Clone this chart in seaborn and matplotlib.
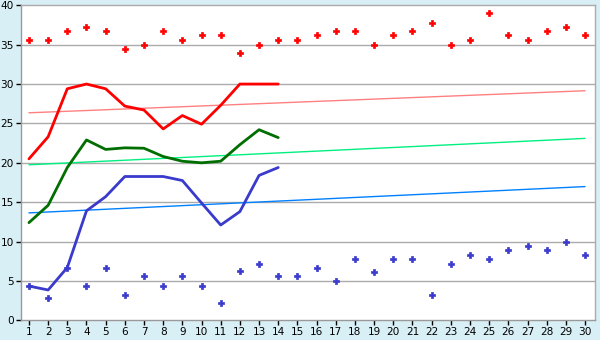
import matplotlib
matplotlib.use("Agg")
import matplotlib.pyplot as plt
import seaborn as sns
import numpy as np
import pandas as pd

days = list(range(1, 31))
line_days = list(range(1, 15))

red_points = [35.6, 35.6, 36.8, 37.2, 36.8, 34.4, 35.0, 36.8, 35.6, 36.2,
              36.2, 33.9, 35.0, 35.6, 35.6, 36.2, 36.8, 36.8, 35.0, 36.2,
              36.8, 37.8, 35.0, 35.6, 39.0, 36.2, 35.6, 36.8, 37.2, 36.2]
blue_points = [4.35, 2.8, 6.6, 4.35, 6.6, 3.2, 5.6, 4.35, 5.6, 4.35,
               2.2, 6.2, 7.15, 5.6, 5.6, 6.6, 5.0, 7.8, 6.1, 7.8,
               7.8, 3.2, 7.15, 8.3, 7.8, 8.9, 9.4, 8.9, 9.95, 8.3]

red_line = [20.5, 23.3, 29.4, 30.0, 29.4, 27.2, 26.7, 24.3, 26.0, 24.9,
            27.3, 30.0, 30.0, 30.0]
green_line = [12.4, 14.6, 19.4, 22.9, 21.7, 21.9, 21.85, 20.8, 20.2, 20.0,
              20.2, 22.3, 24.2, 23.2]
blue_line = [4.35, 3.85, 6.7, 13.9, 15.7, 18.26, 18.26, 18.26, 17.75, 14.9,
             12.1, 13.8, 18.4, 19.4]

trend_x = [1, 30]
trend_red = [26.35, 29.15]
trend_green = [19.75, 23.1]
trend_blue = [13.64, 16.98]

y_ticks = [0, 5, 10, 15, 20, 25, 30, 35, 40]

sns.set_theme(style="white")
plt.rcParams['font.family'] = ['DejaVu Sans']

bg = "#D9EFF6"
grid_c = "#ABABAB"

fig = plt.figure(figsize=(6, 3.4), dpi=100, facecolor=bg)
ax = fig.add_axes([20.7 / 600, (340 - 320.3) / 340, (595 - 20.7) / 600, (320.3 - 5.3) / 340])
ax.set_facecolor("white")

for yv in y_ticks[1:-1]:
    ax.axhline(yv, color=grid_c, lw=1.0, zorder=0)

sns.lineplot(x=trend_x, y=trend_red, color="#FF8080", lw=1.0, ax=ax, zorder=2)
sns.lineplot(x=trend_x, y=trend_green, color="#00F080", lw=1.0, ax=ax, zorder=2)
sns.lineplot(x=trend_x, y=trend_blue, color="#0080FF", lw=1.0, ax=ax, zorder=2)

sns.lineplot(x=line_days, y=red_line, color="#FF0000", lw=2.0, ax=ax, zorder=3)
sns.lineplot(x=line_days, y=green_line, color="#006E00", lw=2.0, ax=ax, zorder=3)
sns.lineplot(x=line_days, y=blue_line, color="#3A3ACC", lw=2.0, ax=ax, zorder=3)

sns.scatterplot(x=days, y=red_points, color="#FF0000", marker="P", s=20,
                edgecolor="#FF0000", linewidth=0.5, ax=ax, zorder=4)
sns.scatterplot(x=days, y=blue_points, color="#3A3ACC", marker="P", s=20,
                edgecolor="#3A3ACC", linewidth=0.5, ax=ax, zorder=4)

ax.set_xlim(0.57, 30.52)
ax.set_ylim(0, 40)
ax.set_xticks(days)
ax.set_xticklabels([str(d) for d in days])
ax.set_yticks(y_ticks)
ax.set_yticklabels([str(v) for v in y_ticks])

for s in ax.spines.values():
    s.set_visible(True)
    s.set_color(grid_c)
    s.set_linewidth(1.0)
ax.spines['left'].set_color("#9A9A9A")
ax.spines['bottom'].set_color("#9A9A9A")

ax.tick_params(axis='both', which='both', length=3.5, width=1, color="#000000",
               labelsize=7.6, labelcolor="#000000", pad=1.5,
               bottom=True, left=True)
ax.set_xlabel("")
ax.set_ylabel("")

fig.savefig("out.png", dpi=100, facecolor=bg)
